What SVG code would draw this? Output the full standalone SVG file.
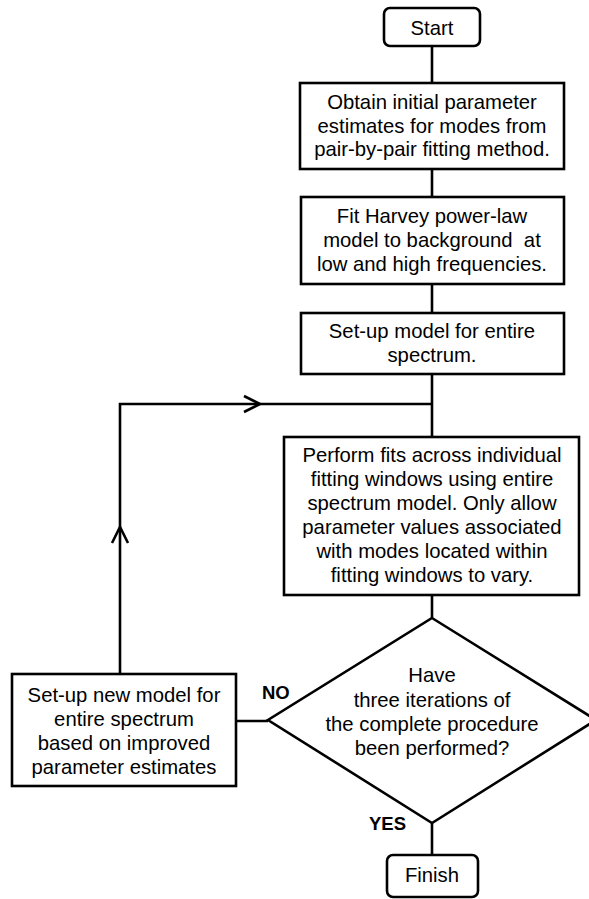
<svg xmlns="http://www.w3.org/2000/svg" width="589" height="899" viewBox="0 0 589 899">
<style>
.box{fill:#fff;stroke:#000;stroke-width:2.6}
.ln{fill:none;stroke:#000;stroke-width:2.6}
.t{font-family:"Liberation Sans",Arial,sans-serif;font-size:20.3px;fill:#000;text-anchor:middle;white-space:pre}
.lb{font-family:"Liberation Sans",Arial,sans-serif;font-size:18.5px;font-weight:bold;fill:#000}
</style>
<rect width="589" height="899" fill="#fff"/>
<g id="connectors">
<path class="ln" d="M432 46V83M432 169V197M432 284V313M432 374V437M432 595V618M432 823V855"/>
<path class="ln" d="M268 721H236M120 674V404H432"/>
<path class="ln" d="M244 396L260 404L244 412"/>
<path class="ln" d="M112 543L120 527L128 543"/>
</g>
<g id="start">
<rect class="box" x="384" y="8" width="96" height="38" rx="6"/>
<text class="t" x="432" y="35">Start</text>
</g>
<g id="obtain">
<rect class="box" x="300" y="83" width="264" height="86"/>
<text class="t" x="432" y="109">Obtain initial parameter</text>
<text class="t" x="432" y="132.5">estimates for modes from</text>
<text class="t" x="432" y="156">pair-by-pair fitting method.</text>
</g>
<g id="harvey">
<rect class="box" x="301" y="197" width="263" height="87"/>
<text class="t" x="432" y="223">Fit Harvey power-law</text>
<text class="t" x="432" y="247">model to background  at</text>
<text class="t" x="432" y="271">low and high frequencies.</text>
</g>
<g id="setup">
<rect class="box" x="301" y="313" width="263" height="61"/>
<text class="t" x="432" y="338">Set-up model for entire</text>
<text class="t" x="432" y="362">spectrum.</text>
</g>
<g id="perform">
<rect class="box" x="284" y="437" width="295" height="158"/>
<text class="t" x="432" y="462">Perform fits across individual</text>
<text class="t" x="432" y="486">fitting windows using entire</text>
<text class="t" x="432" y="510">spectrum model. Only allow</text>
<text class="t" x="432" y="534">parameter values associated</text>
<text class="t" x="432" y="558">with modes located within</text>
<text class="t" x="432" y="582">fitting windows to vary.</text>
</g>
<g id="decision">
<polygon class="box" points="432,618 596,720 432,823 268,720"/>
<text class="t" x="432" y="682">Have</text>
<text class="t" x="432" y="707">three iterations of</text>
<text class="t" x="432" y="731">the complete procedure</text>
<text class="t" x="432" y="755">been performed?</text>
</g>
<g id="newmodel">
<rect class="box" x="12" y="674" width="224" height="112"/>
<text class="t" x="124" y="702">Set-up new model for</text>
<text class="t" x="124" y="726">entire spectrum</text>
<text class="t" x="124" y="750">based on improved</text>
<text class="t" x="124" y="774">parameter estimates</text>
</g>
<g id="finish">
<rect class="box" x="387" y="855" width="91" height="42" rx="6"/>
<text class="t" x="432" y="882">Finish</text>
</g>
<g id="labels">
<text class="lb" x="262" y="699">NO</text>
<text class="lb" x="369" y="830">YES</text>
</g>
</svg>
